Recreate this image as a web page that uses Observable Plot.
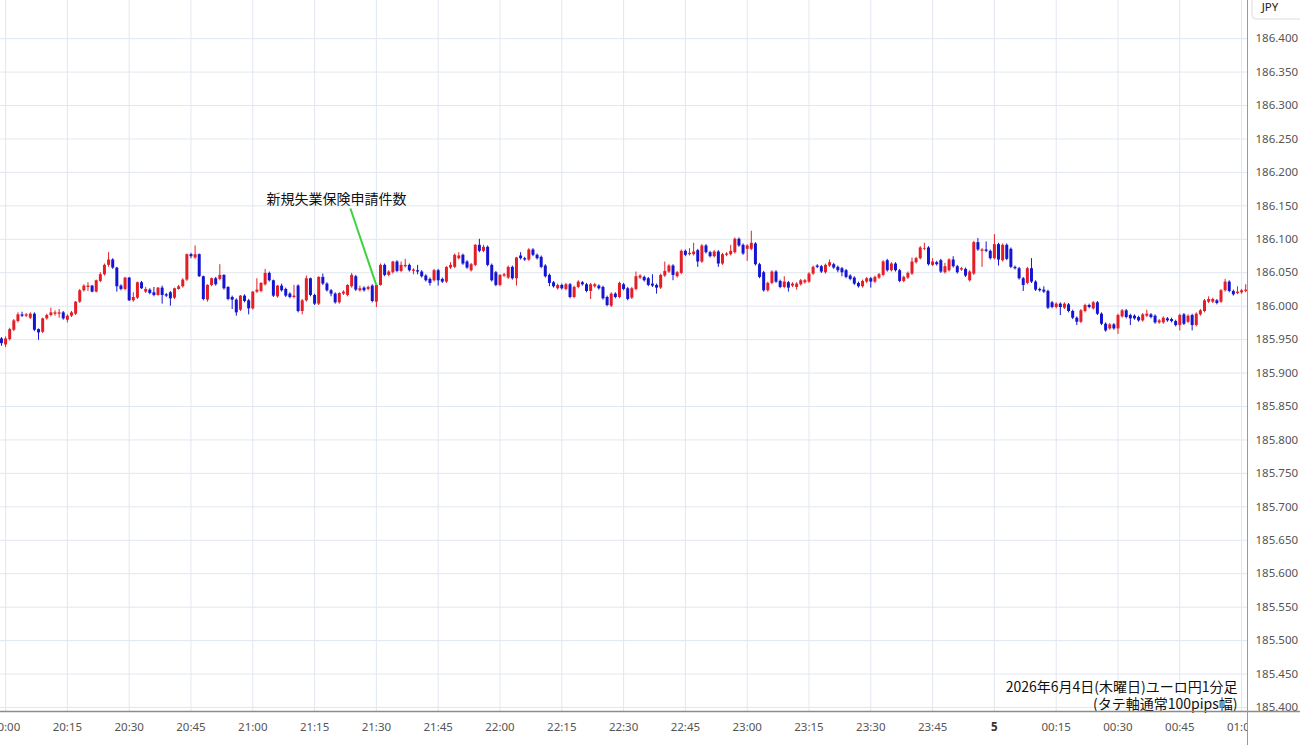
<!DOCTYPE html>
<html><head><meta charset="utf-8">
<script src="https://cdn.jsdelivr.net/npm/d3@7"></script>
<script src="https://cdn.jsdelivr.net/npm/@observablehq/plot@0.6"></script>
<style>
body{margin:0;background:#fff;}
#chart{position:relative;width:1300px;height:745px;overflow:hidden;}
</style></head><body><div id="chart"></div>
<script>
// EUR/JPY 1-minute candles, 2026-06-04 19:59 -> 2026-06-05 01:01 (UTC-labelled)
const firstCandle = "2026-06-04T19:59:00Z";
const xDomain = ["2026-06-04T19:58:46Z", "2026-06-05T01:01:26Z"];
const yDomain = [185.394, 186.457];

const opens = [
185.951,185.942,185.950,185.964,185.977,185.987,185.985,185.982,185.988,185.965,
185.961,185.981,185.986,185.988,185.988,185.990,185.979,185.985,185.988,186.006,
186.023,186.028,186.030,186.021,186.037,186.047,186.061,186.069,186.057,186.030,
186.025,186.042,186.008,186.012,186.035,186.021,186.024,186.020,186.016,186.027,
186.017,186.020,186.012,186.025,186.029,186.039,186.077,186.072,186.077,186.044,
186.009,186.031,186.041,186.040,186.046,186.028,186.013,186.009,185.994,186.015,
186.008,185.996,186.021,186.022,186.032,186.049,186.038,186.014,186.030,186.025,
186.018,186.013,186.030,185.992,186.008,186.041,186.016,186.003,186.043,186.033,
186.023,186.018,186.005,186.018,186.016,186.029,186.044,186.023,186.027,186.025,
186.030,186.006,186.031,186.061,186.046,186.050,186.066,186.052,186.059,186.061,
186.052,186.053,186.051,186.045,186.040,186.038,186.053,186.040,186.036,186.057,
186.058,186.071,186.076,186.066,186.053,186.061,186.091,186.082,186.088,186.061,
186.050,186.031,186.045,186.042,186.058,186.041,186.075,186.071,186.069,186.084,
186.076,186.073,186.060,186.046,186.035,186.026,186.031,186.025,186.032,186.013,
186.028,186.035,186.032,186.022,186.029,186.030,186.028,186.013,186.000,186.018,
186.013,186.032,186.026,186.012,186.025,186.042,186.043,186.041,186.033,186.031,
186.027,186.045,186.051,186.060,186.044,186.049,186.082,186.077,186.077,186.083,
186.066,186.090,186.080,186.074,186.081,186.063,186.076,186.077,186.080,186.100,
186.091,186.085,186.085,186.093,186.062,186.050,186.023,186.034,186.051,186.037,
186.028,186.035,186.030,186.028,186.032,186.035,186.036,186.048,186.060,186.059,
186.050,186.060,186.062,186.058,186.056,186.053,186.045,186.042,186.034,186.029,
186.036,186.041,186.036,186.042,186.046,186.068,186.053,186.063,186.053,186.037,
186.042,186.048,186.065,186.071,186.085,186.087,186.061,186.065,186.068,186.050,
186.053,186.069,186.059,186.054,186.055,186.038,186.048,186.095,186.082,186.084,
186.082,186.071,186.092,186.068,186.091,186.085,186.058,186.056,186.041,186.034,
186.056,186.036,186.025,186.024,186.022,186.005,185.998,186.003,185.997,186.002,
185.992,185.982,185.976,185.992,186.001,185.996,186.005,185.988,185.973,185.966,
185.972,185.966,185.984,185.993,185.986,185.985,185.983,185.978,185.985,185.987,
185.985,185.975,185.975,185.981,185.980,185.977,185.971,185.987,185.976,185.986,
185.971,185.987,185.992,186.006,186.006,186.008,186.006,186.023,186.036,186.022,
186.019,186.020,186.022];

const highs = [
185.953,185.954,185.967,185.980,185.990,185.991,185.989,185.990,185.990,185.966,
185.982,185.988,185.997,185.993,185.995,185.992,185.987,185.992,186.007,186.025,
186.032,186.035,186.031,186.039,186.050,186.063,186.080,186.071,186.058,186.032,
186.043,186.043,186.020,186.036,186.037,186.028,186.026,186.028,186.028,186.030,
186.019,186.022,186.027,186.031,186.041,186.078,186.079,186.090,186.078,186.045,
186.032,186.042,186.043,186.062,186.047,186.029,186.015,186.011,186.016,186.017,
186.010,186.022,186.041,186.035,186.055,186.051,186.039,186.031,186.033,186.027,
186.020,186.031,186.032,186.010,186.045,186.042,186.018,186.044,186.048,186.035,
186.025,186.020,186.020,186.023,186.032,186.049,186.046,186.030,186.029,186.030,
186.032,186.032,186.063,186.063,186.053,186.067,186.068,186.066,186.070,186.063,
186.056,186.061,186.053,186.047,186.042,186.055,186.055,186.042,186.059,186.065,
186.078,186.080,186.078,186.068,186.064,186.092,186.100,186.091,186.090,186.063,
186.052,186.047,186.049,186.060,186.060,186.073,186.080,186.073,186.086,186.086,
186.078,186.075,186.062,186.048,186.037,186.033,186.033,186.034,186.034,186.030,
186.038,186.037,186.034,186.034,186.034,186.032,186.030,186.015,186.020,186.020,
186.036,186.034,186.028,186.028,186.051,186.047,186.045,186.043,186.047,186.033,
186.048,186.066,186.062,186.062,186.052,186.084,186.084,186.086,186.094,186.085,
186.092,186.092,186.082,186.083,186.083,186.079,186.080,186.091,186.102,186.102,
186.093,186.092,186.112,186.095,186.064,186.052,186.036,186.053,186.053,186.039,
186.044,186.037,186.035,186.035,186.040,186.040,186.050,186.060,186.062,186.061,
186.063,186.069,186.064,186.060,186.058,186.055,186.047,186.044,186.036,186.039,
186.043,186.043,186.045,186.049,186.068,186.070,186.065,186.065,186.055,186.045,
186.051,186.072,186.073,186.089,186.094,186.089,186.071,186.067,186.070,186.064,
186.071,186.074,186.061,186.058,186.057,186.053,186.097,186.101,186.086,186.096,
186.084,186.107,186.094,186.093,186.093,186.087,186.060,186.058,186.043,186.058,
186.071,186.038,186.027,186.029,186.024,186.007,186.005,186.005,186.005,186.004,
185.994,185.984,185.995,186.003,186.003,186.007,186.007,185.990,185.975,185.974,
185.974,185.988,185.995,185.995,185.988,185.987,185.985,185.989,185.994,185.989,
185.987,185.980,185.984,185.983,185.982,185.979,185.988,185.989,185.987,185.988,
185.990,185.995,186.010,186.014,186.012,186.010,186.025,186.040,186.038,186.024,
186.029,186.025,186.032];

const lows = [
185.940,185.938,185.948,185.962,185.975,185.983,185.983,185.980,185.962,185.949,
185.959,185.979,185.984,185.985,185.982,185.979,185.975,185.983,185.986,186.004,
186.021,186.022,186.020,186.020,186.035,186.045,186.058,186.055,186.021,186.023,
186.023,186.007,186.006,186.010,186.025,186.019,186.017,186.014,186.015,186.003,
186.013,186.000,186.010,186.024,186.027,186.037,186.071,186.070,186.043,186.008,
186.006,186.029,186.030,186.038,186.024,186.008,185.995,185.985,185.992,186.005,
185.987,185.994,186.019,186.020,186.030,186.036,186.013,186.012,186.021,186.013,
186.011,186.011,185.990,185.987,186.006,186.014,186.001,186.001,186.031,186.021,
186.014,186.003,186.003,186.016,186.014,186.027,186.022,186.021,186.021,186.023,
186.005,185.998,186.030,186.044,186.044,186.048,186.050,186.050,186.057,186.051,
186.047,186.047,186.042,186.036,186.030,186.036,186.030,186.034,186.034,186.055,
186.056,186.069,186.061,186.055,186.051,186.059,186.080,186.080,186.059,186.036,
186.029,186.029,186.043,186.040,186.039,186.030,186.069,186.067,186.067,186.074,
186.069,186.056,186.042,186.029,186.027,186.024,186.024,186.023,186.011,186.011,
186.026,186.030,186.020,186.010,186.027,186.024,186.009,185.999,185.998,186.011,
186.011,186.023,186.008,186.010,186.023,186.040,186.036,186.029,186.028,186.018,
186.025,186.043,186.049,186.038,186.042,186.047,186.074,186.075,186.075,186.058,
186.064,186.078,186.072,186.072,186.058,186.061,186.074,186.075,186.078,186.088,
186.076,186.067,186.083,186.060,186.041,186.021,186.021,186.032,186.034,186.026,
186.026,186.021,186.028,186.024,186.030,186.033,186.034,186.046,186.056,186.049,
186.048,186.058,186.055,186.050,186.044,186.041,186.038,186.031,186.027,186.027,
186.034,186.027,186.034,186.040,186.044,186.051,186.051,186.051,186.035,186.035,
186.040,186.046,186.063,186.069,186.083,186.060,186.059,186.060,186.049,186.048,
186.051,186.057,186.048,186.052,186.043,186.036,186.046,186.082,186.058,186.080,
186.069,186.069,186.060,186.066,186.068,186.056,186.054,186.039,186.022,186.032,
186.034,186.022,186.021,186.019,185.995,185.996,185.996,185.986,185.995,185.990,
185.980,185.971,185.974,185.990,185.996,185.994,185.986,185.971,185.961,185.964,
185.964,185.958,185.982,185.981,185.971,185.979,185.976,185.976,185.983,185.981,
185.973,185.973,185.973,185.976,185.975,185.969,185.963,185.971,185.974,185.963,
185.969,185.985,185.990,186.004,186.004,186.002,186.004,186.021,186.020,186.015,
186.017,186.018,186.020];

const closes = [
185.944,185.951,185.965,185.978,185.987,185.985,185.987,185.988,185.964,185.960,
185.981,185.986,185.990,185.990,185.990,185.981,185.985,185.990,186.006,186.023,
186.030,186.030,186.021,186.038,186.047,186.061,186.069,186.057,186.029,186.025,
186.042,186.008,186.013,186.035,186.026,186.025,186.019,186.016,186.027,186.016,
186.015,186.011,186.026,186.029,186.039,186.077,186.074,186.077,186.044,186.010,
186.031,186.041,186.032,186.046,186.026,186.010,186.009,185.990,186.015,186.007,
185.996,186.021,186.024,186.034,186.049,186.038,186.015,186.030,186.023,186.015,
186.013,186.015,185.992,186.008,186.041,186.016,186.003,186.043,186.033,186.023,
186.018,186.005,186.019,186.021,186.031,186.046,186.024,186.026,186.023,186.028,
186.007,186.031,186.061,186.046,186.051,186.066,186.052,186.061,186.061,186.053,
186.054,186.051,186.044,186.038,186.034,186.053,186.038,186.036,186.058,186.061,
186.076,186.075,186.063,186.057,186.062,186.091,186.082,186.088,186.061,186.038,
186.031,186.046,186.047,186.058,186.041,186.072,186.071,186.069,186.084,186.076,
186.071,186.058,186.044,186.034,186.029,186.031,186.026,186.032,186.013,186.028,
186.036,186.032,186.022,186.032,186.032,186.026,186.011,186.001,186.018,186.013,
186.034,186.025,186.010,186.026,186.044,186.045,186.038,186.031,186.030,186.027,
186.046,186.052,186.060,186.046,186.050,186.082,186.076,186.079,186.081,186.066,
186.090,186.080,186.074,186.081,186.063,186.077,186.078,186.082,186.100,186.090,
186.078,186.090,186.094,186.062,186.043,186.023,186.034,186.051,186.036,186.028,
186.036,186.027,186.033,186.033,186.038,186.038,186.048,186.058,186.058,186.051,
186.061,186.065,186.057,186.053,186.050,186.043,186.040,186.033,186.029,186.037,
186.041,186.036,186.043,186.047,186.066,186.053,186.063,186.053,186.037,186.043,
186.049,186.066,186.071,186.087,186.086,186.062,186.066,186.062,186.051,186.059,
186.069,186.059,186.050,186.056,186.045,186.051,186.095,186.084,186.084,186.082,
186.071,186.092,186.069,186.091,186.070,186.058,186.056,186.041,186.031,186.056,
186.036,186.024,186.023,186.021,185.997,185.998,186.003,185.998,186.003,185.992,
185.982,185.976,185.993,186.001,185.998,186.005,185.988,185.973,185.963,185.972,
185.966,185.986,185.993,185.983,185.981,185.981,185.978,185.987,185.988,185.983,
185.975,185.978,185.982,185.978,185.977,185.971,185.986,185.973,185.985,185.971,
185.988,185.993,186.008,186.010,186.010,186.004,186.023,186.036,186.022,186.017,
186.021,186.023,186.024];

const priceTicks = [185.40,185.45,185.50,185.55,185.60,185.65,185.70,185.75,185.80,185.85,
  185.90,185.95,186.00,186.05,186.10,186.15,186.20,186.25,186.30,186.35,186.40];
const timeTicks = ["2026-06-04T20:00Z","2026-06-04T20:15Z","2026-06-04T20:30Z","2026-06-04T20:45Z",
  "2026-06-04T21:00Z","2026-06-04T21:15Z","2026-06-04T21:30Z","2026-06-04T21:45Z",
  "2026-06-04T22:00Z","2026-06-04T22:15Z","2026-06-04T22:30Z","2026-06-04T22:45Z",
  "2026-06-04T23:00Z","2026-06-04T23:15Z","2026-06-04T23:30Z","2026-06-04T23:45Z",
  "2026-06-05T00:00Z","2026-06-05T00:15Z","2026-06-05T00:30Z","2026-06-05T00:45Z","2026-06-05T01:00Z"];
const dayLabel = "5";

const annotationLabel = [{time:"2026-06-04T21:20:18Z", price:186.159, text:"新規失業保険申請件数"}];
const annotationLine = [{time1:"2026-06-04T21:23:42Z", price1:186.146, time2:"2026-06-04T21:30:00Z", price2:186.031}];
const captionLines = ["2026年6月4日(木曜日)ユーロ円1分足", "(タテ軸通常100pips幅)"];

const RED = "#e41e26", BLUE = "#1414d2", GRID = "#e1e7f0";

const t0 = new Date(firstCandle).getTime();
const candles = opens.map((o, i) => ({
  t: new Date(t0 + i * 60000), o, h: highs[i], l: lows[i], c: closes[i]
}));
const tickDates = timeTicks.map(s => new Date(s));
const regularTicks = tickDates.filter(d => !(d.getUTCHours() === 0 && d.getUTCMinutes() === 0));
const dayTicks = tickDates.filter(d => d.getUTCHours() === 0 && d.getUTCMinutes() === 0);
const col = d => d.c >= d.o ? RED : BLUE;

const plot = Plot.plot({
  width: 1300, height: 745,
  marginLeft: 0, marginRight: 53, marginTop: 0, marginBottom: 34,
  style: {fontFamily: "'Noto Sans', 'Open Sans', sans-serif", background: "#fff", overflow: "visible"},
  x: {type: "utc", domain: xDomain.map(s => new Date(s)), axis: null},
  y: {domain: yDomain, axis: null},
  marks: [
    Plot.gridY(priceTicks, {stroke: GRID, strokeOpacity: 1}),
    Plot.gridX(tickDates, {stroke: GRID, strokeOpacity: 1}),
    Plot.ruleX(candles, {x: "t", y1: "l", y2: "h", stroke: col, strokeWidth: 1}),
    Plot.ruleX(candles, {x: "t", y1: "o", y2: "c", stroke: col, strokeWidth: 3}),
    Plot.axisY(priceTicks, {anchor: "right", tickSize: 0, tickPadding: 8, label: null,
      tickFormat: d => d.toFixed(3), fontSize: 11.5, fill: "#555"}),
    Plot.axisX(regularTicks, {anchor: "bottom", tickSize: 0, tickPadding: 11, label: null,
      tickFormat: d3.utcFormat("%H:%M"), fontSize: 11.5, fill: "#555"}),
    Plot.axisX(dayTicks, {anchor: "bottom", tickSize: 0, tickPadding: 11, label: null,
      tickFormat: () => dayLabel, fontSize: 11.5, fontWeight: "bold", fill: "#333"}),
    Plot.link(annotationLine, {x1: d => new Date(d.time1), y1: "price1", x2: d => new Date(d.time2), y2: "price2",
      stroke: "#3fd23f", strokeWidth: 2}),
    Plot.text(annotationLabel, {x: d => new Date(d.time), y: "price", text: "text", fontSize: 14,
      fill: "#111", fontFamily: "'Noto Sans CJK JP', sans-serif"}),
    Plot.text([captionLines[0]], {frameAnchor: "bottom-right", dx: -10, dy: -20, lineAnchor: "bottom",
      textAnchor: "end", text: d => d, fontSize: 14, fill: "#111",
      fontFamily: "'Noto Sans CJK JP', sans-serif"}),
    Plot.text([captionLines[1]], {frameAnchor: "bottom-right", dx: -10, dy: -3, lineAnchor: "bottom",
      textAnchor: "end", text: d => d, fontSize: 14, fill: "#111",
      fontFamily: "'Noto Sans CJK JP', sans-serif"})
  ]
});
document.getElementById("chart").appendChild(plot);

// chart chrome: right-axis border, bottom border, currency box
const svg = d3.select(plot);
svg.append("rect").attr("x", 1248).attr("y", 714).attr("width", 52).attr("height", 31).attr("fill", "#fff");
svg.append("line").attr("x1", 0).attr("x2", 1300).attr("y1", 711.5).attr("y2", 711.5)
  .attr("stroke", "#8c8c8c").attr("stroke-width", 1.5);
svg.append("line").attr("x1", 1247.5).attr("x2", 1247.5).attr("y1", 0).attr("y2", 745)
  .attr("stroke", "#9a9a9a").attr("stroke-width", 1);
svg.append("rect").attr("x", 1252).attr("y", -6).attr("width", 52).attr("height", 25).attr("rx", 4)
  .attr("fill", "#fff").attr("stroke", "#dcdcdc");
svg.append("text").attr("x", 1270).attr("y", 11).attr("text-anchor", "middle").attr("font-size", 11.5)
  .attr("fill", "#222").attr("font-family", "'Noto Sans', sans-serif").text("JPY");
</script></body></html>
